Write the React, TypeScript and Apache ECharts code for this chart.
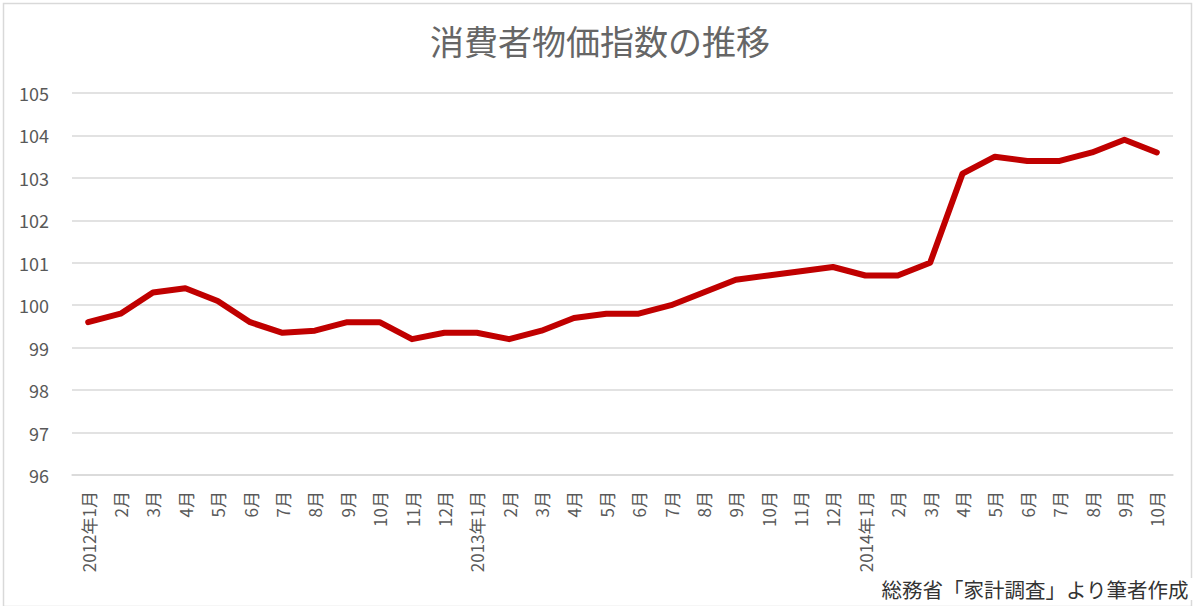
import React, { useEffect, useRef } from "react";
import * as echarts from "echarts";

const TITLE = "消費者物価指数の推移";
const SOURCE = "総務省「家計調査」より筆者作成";

const months = [
  "2012年1月", "2月", "3月", "4月", "5月", "6月", "7月", "8月", "9月", "10月", "11月", "12月",
  "2013年1月", "2月", "3月", "4月", "5月", "6月", "7月", "8月", "9月", "10月", "11月", "12月",
  "2014年1月", "2月", "3月", "4月", "5月", "6月", "7月", "8月", "9月", "10月",
];

const cpi = [
  99.6, 99.8, 100.3, 100.4, 100.1, 99.6, 99.35, 99.4, 99.6, 99.6, 99.2, 99.35,
  99.35, 99.2, 99.4, 99.7, 99.8, 99.8, 100.0, 100.3, 100.6, 100.7, 100.8, 100.9,
  100.7, 100.7, 101.0, 103.1, 103.5, 103.4, 103.4, 103.6, 103.9, 103.6,
];

const yMin = 96;
const yMax = 105;
const yStep = 1;

const FONT = "'Noto Sans CJK JP', 'Noto Sans', sans-serif";

const App = () => {
  const chartRef = useRef<HTMLDivElement | null>(null);

  useEffect(() => {
    if (!chartRef.current) return;
    const myChart = echarts.init(chartRef.current, undefined, { renderer: "svg" });

    const option = {
      animation: false,
      backgroundColor: "#fff",
      textStyle: { fontFamily: FONT },
      title: {
        text: TITLE,
        left: "center",
        top: 18,
        textStyle: {
          color: "#666",
          fontSize: 34,
          fontWeight: "normal",
          fontFamily: FONT,
        },
      },
      grid: {
        left: 72,
        right: 27,
        top: 93,
        bottom: 131,
      },
      xAxis: {
        type: "category",
        data: months,
        boundaryGap: true,
        axisLine: { show: true, lineStyle: { color: "#d9d9d9", width: 1.5 } },
        axisTick: { show: false },
        axisLabel: {
          rotate: 90,
          interval: 0,
          margin: 16,
          color: "#595959",
          fontSize: 17,
          fontFamily: FONT,
        },
      },
      yAxis: {
        type: "value",
        min: yMin,
        max: yMax,
        interval: yStep,
        axisLine: { show: false },
        axisTick: { show: false },
        splitLine: { lineStyle: { color: "#d9d9d9", width: 1.5 } },
        axisLabel: {
          margin: 23,
          color: "#595959",
          fontSize: 18,
          fontFamily: FONT,
        },
      },
      series: [
        {
          type: "line",
          data: cpi,
          symbol: "none",
          lineStyle: { color: "#c00000", width: 6, join: "round", cap: "round" },
        },
      ],
      graphic: [
        {
          type: "rect",
          left: 1,
          top: 1,
          shape: { width: 1188, height: 603 },
          style: { fill: "none", stroke: "#d9d9d9", lineWidth: 1.5 },
          silent: true,
        },
        {
          type: "text",
          right: 7,
          bottom: 6,
          style: {
            text: SOURCE,
            fill: "#333",
            fontSize: 20.5,
            lineHeight: 22,
            fontFamily: FONT,
            backgroundColor: "#fff",
            padding: [0, 4],
          },
          z: 100,
        },
      ],
    };

    myChart.setOption(option);

    return () => {
      myChart.dispose();
    };
  }, []);

  return (
    <div
      ref={chartRef}
      style={{ position: "absolute", left: 0, top: 0, width: "1200px", height: "606px" }}
    ></div>
  );
};

export default App;
